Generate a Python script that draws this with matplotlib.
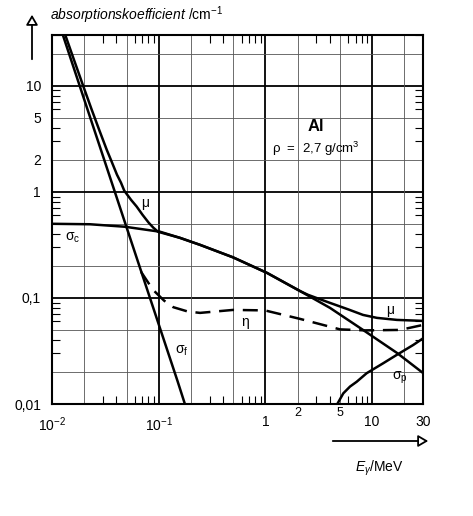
import numpy as np
import matplotlib
matplotlib.use("Agg")
from matplotlib import pyplot as plt
from matplotlib.ticker import LogLocator, NullFormatter

plt.rcParams['font.family'] = ['Liberation Sans', 'DejaVu Sans']
plt.rcParams['mathtext.fontset'] = 'custom'
plt.rcParams['mathtext.rm'] = 'Liberation Sans'
plt.rcParams['mathtext.it'] = 'Liberation Sans:italic'

# photo effect
E_f = [0.0127, 0.02, 0.03, 0.05, 0.08, 0.1, 0.15, 0.176]
sigma_f = [29.6, 7.45, 2.18, 0.462, 0.111, 0.0564, 0.0165, 0.01]

# compton
E_c = [0.01, 0.0227, 0.0483, 0.103, 0.158, 0.244, 0.497, 1.035, 2.11, 4.03, 8.22, 17.1, 30]
sigma_c = [0.499, 0.494, 0.468, 0.42, 0.368, 0.316, 0.241, 0.172, 0.116, 0.0805, 0.0499, 0.0303, 0.0196]

# pair production
E_p = [4.72, 5.37, 6.21, 7.17, 8.89, 12.7, 17.0, 24.3, 30.2]
sigma_p = [0.01, 0.0126, 0.0146, 0.0162, 0.0195, 0.0242, 0.029, 0.036, 0.0417]

# total
E_mu = [0.01338, 0.01604, 0.01956, 0.02355, 0.02763, 0.03257, 0.03565, 0.04066, 0.04433, 0.0476,
        0.055, 0.0621, 0.0705, 0.0807, 0.0894, 0.0985,
        0.158, 0.244, 0.497, 1.035, 2.11, 2.5, 3.0, 4.03, 6.0, 8.22, 11.1, 17.1, 30]
mu = [29.6, 17.6, 10.0, 5.94, 3.85, 2.49, 2.0, 1.446, 1.216, 1.022,
      0.84, 0.726, 0.607, 0.51, 0.457, 0.42,
      0.368, 0.316, 0.241, 0.172, 0.116, 0.107, 0.1, 0.0897, 0.0778, 0.0691, 0.0648, 0.062, 0.0607]

# energy absorption
E_eta = [0.0683, 0.0885, 0.1122, 0.137, 0.188, 0.244, 0.497, 0.99, 2.11, 5.0, 8.58, 18.3, 30]
eta = [0.176, 0.119, 0.0943, 0.0817, 0.0743, 0.0722, 0.077, 0.0762, 0.0634, 0.0505, 0.0494, 0.0499, 0.0556]

fig = plt.figure(figsize=(4.73, 5.16), dpi=100)
ax = fig.add_axes([52 / 473, 112 / 516, 371 / 473, 369 / 516])
ax.set_xscale('log')
ax.set_yscale('log')
ax.set_xlim(0.01, 30)
ax.set_ylim(0.01, 30)

# grid: thick at decades, thin at 2 and 5
for k in range(-2, 2):
    ax.axvline(10.0 ** k, color='black', lw=1.3, zorder=1)
    ax.axhline(10.0 ** k, color='black', lw=1.3, zorder=1)
    for m in (2, 5):
        ax.axvline(m * 10.0 ** k, color='#555555', lw=0.6, zorder=1)
        ax.axhline(m * 10.0 ** k, color='#555555', lw=0.6, zorder=1)

lw = 1.8
ax.plot(E_f, sigma_f, color='black', lw=lw, zorder=3)
ax.plot(E_c, sigma_c, color='black', lw=lw, zorder=3)
ax.plot(E_p, sigma_p, color='black', lw=lw, zorder=3)
ax.plot(E_mu, mu, color='black', lw=lw, zorder=3)
ax.plot(E_eta, eta, color='black', lw=lw, dashes=(6, 3.5), zorder=3)

# curve labels
ax.text(0.0745, 0.79, 'μ', fontsize=10, ha='center', va='center')
ax.text(0.0157, 0.368, 'σ$_\\mathrm{c}$', fontsize=10, ha='center', va='center')
ax.text(0.165, 0.0316, 'σ$_\\mathrm{f}$', fontsize=10, ha='center', va='center')
ax.text(0.644, 0.0594, 'η', fontsize=10, ha='center', va='center')
ax.text(14.7, 0.077, 'μ', fontsize=10, ha='center', va='center')
ax.text(18.2, 0.0176, 'σ$_\\mathrm{p}$', fontsize=10, ha='center', va='center')

ax.text(2.98, 4.1, 'Al', fontsize=12, fontweight='bold', ha='center', va='center')
ax.text(2.98, 2.55, 'ρ  =  2,7 g/cm$^3$', fontsize=9.5, ha='center', va='center')

# ticks
for side in ax.spines.values():
    side.set_linewidth(1.5)
ax.xaxis.set_minor_locator(LogLocator(base=10, subs=(3, 4, 6, 7, 8, 9)))
ax.yaxis.set_minor_locator(LogLocator(base=10, subs=(3, 4, 6, 7, 8, 9)))
ax.xaxis.set_minor_formatter(NullFormatter())
ax.yaxis.set_minor_formatter(NullFormatter())
ax.tick_params(which='minor', direction='in', top=True, right=True, length=6, width=0.8)
ax.tick_params(which='major', length=0, labelsize=10)

xt = [0.01, 0.1, 1, 2, 5, 10, 30]
xl = ['10$^{-2}$', '10$^{-1}$', '1', '2', '5', '10', '30']
ax.set_xticks(xt)
ax.set_xticklabels(xl)
for t, lab in zip(ax.xaxis.get_major_ticks(), xl):
    if lab in ('2', '5'):
        t.set_pad(2)
        t.label1.set_fontsize(9)
    else:
        t.set_pad(8)

yt = [0.01, 0.1, 1, 2, 5, 10]
yl = ['0,01', '0,1', '1', '2', '5', '10']
ax.set_yticks(yt)
ax.set_yticklabels(yl)
ax.tick_params(axis='y', which='major', pad=8)

# axis titles with arrows
fig.text(50 / 473, 1 - 15 / 516, '$\\mathit{absorptionskoefficient}$ /cm$^{-1}$', fontsize=10,
         ha='left', va='center')
fig.add_artist(matplotlib.patches.FancyArrowPatch(
    (32 / 473, 1 - 62 / 516), (32 / 473, 1 - 12 / 516), transform=fig.transFigure,
    arrowstyle='-|>,head_length=6,head_width=3.5', fc='white', ec='black', lw=1.3))

fig.add_artist(matplotlib.patches.FancyArrowPatch(
    (330 / 473, 1 - 441 / 516), (431 / 473, 1 - 441 / 516), transform=fig.transFigure,
    arrowstyle='-|>,head_length=6,head_width=3.5', fc='white', ec='black', lw=1.3))
fig.text(379 / 473, 1 - 468 / 516, '$E_\\gamma$/MeV', fontsize=10, ha='center', va='center')

fig.savefig('out.png', dpi=100)
